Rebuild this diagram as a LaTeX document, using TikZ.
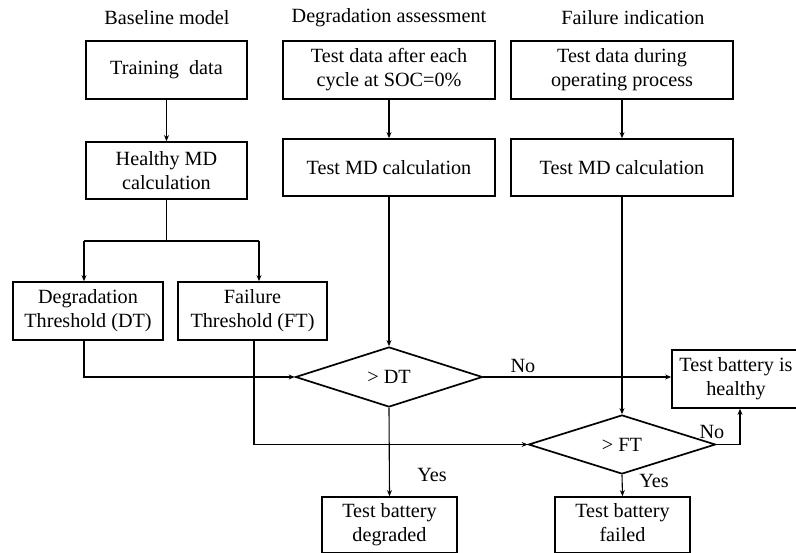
\documentclass[tikz,border=0pt]{standalone}
\usepackage{fontspec}
\setmainfont{Liberation Serif}
\usetikzlibrary{shapes.geometric,arrows.meta}
\begin{document}
\begin{tikzpicture}[x=1pt,y=-1pt,
  every node/.style={font=\fontsize{20.2}{24}\selectfont},
  box/.style={draw,line width=1.7pt,align=center,inner sep=0pt},
  dia/.style={draw,line width=1.7pt,diamond,inner sep=0pt,aspect=3.1},
  conn/.style={line width=1.1pt,-{Stealth[length=6pt,width=5pt]}},
  plain/.style={line width=1.1pt},
  lbl/.style={inner sep=0pt}]
\useasboundingbox (0,0) rectangle (796,553);
\clip (0,0) rectangle (796,553);
% titles
\node[lbl] (t1) at (167,18) {Baseline model};
\node[lbl] (t2) at (389,18) {Degradation assessment};
\node[lbl] (t3) at (633,18) {Failure indication};
% boxes
\node[box,minimum width=161,minimum height=58] (train) at (166.5,70) {Training\ \ data};
\node[box,minimum width=161,minimum height=57] (hmd) at (166.5,170.5) {Healthy MD\\calculation};
\node[box,minimum width=212,minimum height=58] (tdata) at (389,70) {Test data after each\\cycle at SOC=0\%};
\node[box,minimum width=212,minimum height=57] (tmd1) at (389,167.5) {Test MD calculation};
\node[box,minimum width=222,minimum height=58] (fdata) at (622,70) {Test data during\\operating process};
\node[box,minimum width=222,minimum height=57] (tmd2) at (622,167.5) {Test MD calculation};
\node[box,minimum width=150,minimum height=58] (dt) at (88,311) {Degradation\\Threshold (DT)};
\node[box,minimum width=149,minimum height=58] (ft) at (252.5,311) {Failure\\Threshold (FT)};
\node[dia,minimum width=187,minimum height=60] (ddt) at (389,377) {> DT};
\node[dia,minimum width=187,minimum height=59] (dft) at (622,444.5) {> FT};
\node[box,minimum width=128,minimum height=58] (healthy) at (736,379) {Test battery is\\healthy};
\node[box,minimum width=135,minimum height=56] (deg) at (389.5,525) {Test battery\\degraded};
\node[box,minimum width=135,minimum height=56] (fail) at (622.5,525) {Test battery\\failed\vphantom{g}};
% helper coordinates
\coordinate (br) at (166.5,241);
\coordinate (brl) at (84,241);
\coordinate (brr) at (259,241);
\coordinate (dtb) at (84,340);
\coordinate (dtc) at (84,377);
\coordinate (ftb) at (254,340);
\coordinate (ftc) at (254,444.5);
\coordinate (nc) at (740,444.5);
% connectors
\draw[conn] (train) -- (hmd);
\draw[plain] (hmd) -- (br);
\draw[plain] (brl) -- (brr);
\draw[conn] (brl) -- (brl |- dt.north);
\draw[conn] (brr) -- (brr |- ft.north);
\draw[conn] (tdata) -- (tmd1);
\draw[conn] (tmd1) -- (ddt.north);
\draw[conn] (fdata) -- (tmd2);
\draw[conn] (tmd2) -- (dft.north);
\draw[conn] (dtb) -- (dtc) -- (ddt.west);
\draw[conn] (ftb) -- (ftc) -- (dft.west);
\draw[conn] (ddt.east) -- (ddt.east -| healthy.west);
\draw[conn] (ddt.south) -- (deg.north);
\draw[conn] (dft.east) -- (nc) -- (nc |- healthy.south);
\draw[conn] (dft.south) -- (fail.north);
% labels
\node[lbl] (no1) at (523,366) {No};
\node[lbl] (yes1) at (432,475) {Yes};
\node[lbl] (no2) at (712,432) {No};
\node[lbl] (yes2) at (654,481) {Yes};
\end{tikzpicture}
\end{document}
